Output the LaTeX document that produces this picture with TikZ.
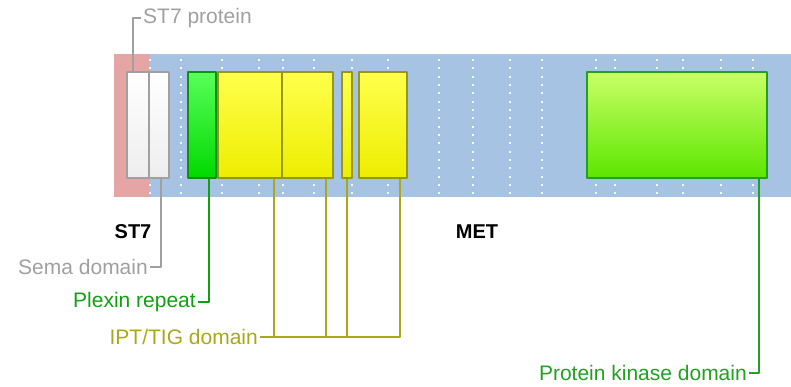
\documentclass[tikz,border=0pt]{standalone}
\usepackage{fontspec}
\setmainfont{Liberation Sans}
\usetikzlibrary{positioning}
\definecolor{stred}{HTML}{E6A5A5}
\definecolor{metblue}{HTML}{A6C3E3}
\definecolor{semagrey}{HTML}{A0A0A0}
\definecolor{plexgreen}{HTML}{11A011}
\definecolor{iptolive}{HTML}{A8A81A}
\definecolor{kinline}{HTML}{22A022}
\begin{document}
\begin{tikzpicture}[x=1pt, y=-1pt, line join=round, font=\fontsize{21}{24}\selectfont,
	dom/.style={line width=2pt, minimum height=106pt, inner sep=0pt},
	semabox/.style={dom, draw=semagrey, top color=white, bottom color=black!7},
	plexbox/.style={dom, draw=plexgreen!90!black, top color=green!65!white, bottom color=green!85!black},
	iptbox/.style={dom, draw=iptolive!90!black, top color=yellow!70!white, bottom color=yellow!93!black},
	kinbox/.style={dom, draw=kinline, top color=green!35!yellow!60!white, bottom color=green!60!yellow!90!black},
	lbl/.style={inner sep=2pt},
	link/.style={line width=2pt}]
	\useasboundingbox (0,0) rectangle (791,387);
	\fill[stred] (114,54) rectangle (150,197);
	\fill[metblue] (150,54) rectangle (791,197);
	\foreach \x in {150,181,222,259,283,314,352,388,439,473,510,542,596,615,657,683,721,753}
		\foreach \k in {0,...,16}
			\fill[white, opacity=.9] (\x-1,{59+8.33*\k}) rectangle ++(2,2);
	\node[semabox, minimum width=22pt] (sema1) at (138,125) {};
	\node[semabox, minimum width=20pt] (sema2) at (159,125) {};
	\node[plexbox, minimum width=28pt] (plex) at (202,125) {};
	\node[iptbox, minimum width=64pt] (ipt1) at (250,125) {};
	\node[iptbox, minimum width=51pt] (ipt2) at (307.5,125) {};
	\node[iptbox, minimum width=10pt] (ipt3) at (347,125) {};
	\node[iptbox, minimum width=48pt] (ipt4) at (383,125) {};
	\node[kinbox, minimum width=180pt] (kin) at (677,125) {};
	\node[font=\fontsize{20}{24}\selectfont\bfseries] (st7) at (133,232) {ST7};
	\node[font=\fontsize{20}{24}\selectfont\bfseries] (met) at (477,232) {MET};
	\node[lbl, anchor=west, text=semagrey] (st7prot) at (141,18) {ST7 protein};
	\node[lbl, anchor=east, text=semagrey] (semadom) at (150,267) {Sema domain};
	\node[lbl, anchor=east, text=plexgreen] (plexrep) at (198,302) {Plexin repeat};
	\node[lbl, anchor=east, text=iptolive] (iptdom) at (260,337) {IPT/TIG domain};
	\node[lbl, anchor=east, text=kinline] (kindom) at (749,373) {Protein kinase domain};
	\draw[link, semagrey] ([xshift=-5pt]sema1.north) |- (st7prot.west);
	\draw[link, semagrey] ([xshift=2pt]sema2.south) |- (semadom.east);
	\draw[link, plexgreen] ([xshift=7pt]plex.south) |- (plexrep.east);
	\foreach \n/\s in {ipt1/24, ipt2/18.5, ipt3/0, ipt4/17}
		\draw[link, iptolive] ([xshift=\s pt]\n.south) |- (iptdom.east);
	\draw[link, kinline] ([xshift=82pt]kin.south) |- (kindom.east);
\end{tikzpicture}
\end{document}
